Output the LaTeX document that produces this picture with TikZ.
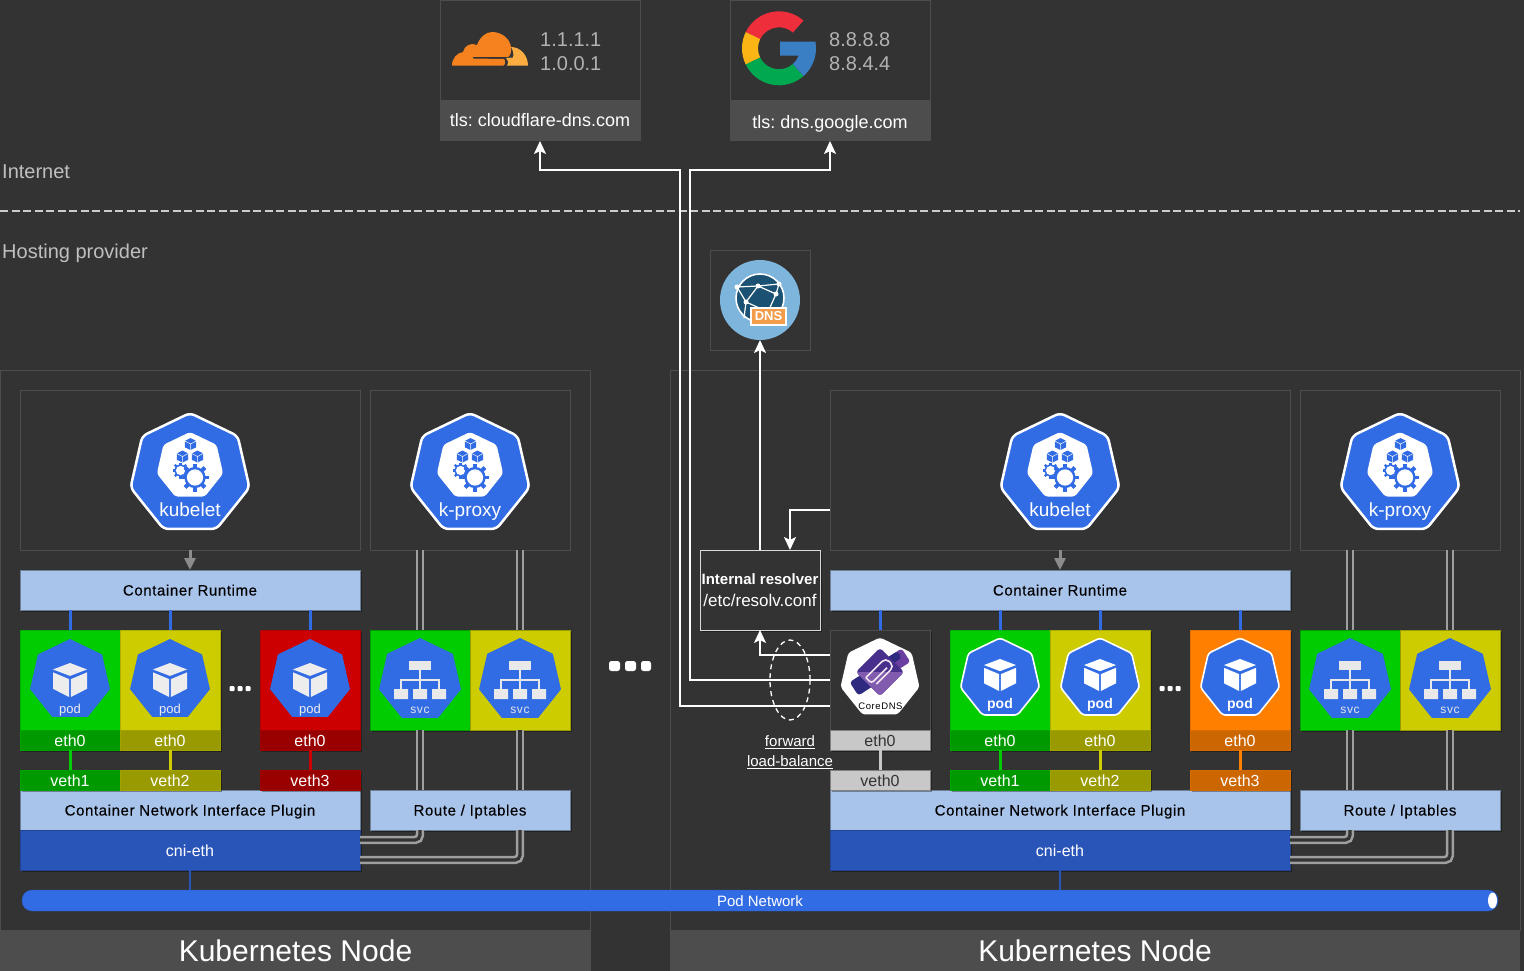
\documentclass[tikz,border=0pt]{standalone}
\usepackage{fontspec}
\setmainfont{Liberation Sans}
\newfontfamily\barfont[LetterSpace=4,FakeBold=.3]{Liberation Sans}
\newfontfamily\svcfont[LetterSpace=6]{Liberation Sans}
\usetikzlibrary{arrows.meta,shapes.geometric,shadows}
\newcommand{\fsz}[1]{\fontsize{#1}{20}\selectfont}
\definecolor{bgdark}{HTML}{333333}
\definecolor{frame}{HTML}{4D4D4D}
\definecolor{kube}{HTML}{326CE5}
\definecolor{lightbar}{HTML}{A9C4EB}
\definecolor{lightedge}{HTML}{6C7F99}
\definecolor{cniblue}{HTML}{2A55B8}
\definecolor{podgreen}{HTML}{00CC00}
\definecolor{darkgreen}{HTML}{009900}
\definecolor{podyellow}{HTML}{CCCC00}
\definecolor{darkyellow}{HTML}{999900}
\definecolor{podred}{HTML}{CC0000}
\definecolor{darkred}{HTML}{990000}
\definecolor{podorange}{HTML}{FF8000}
\definecolor{darkorange}{HTML}{CC6600}
\definecolor{softgray}{HTML}{C8C8C8}
\definecolor{cfmain}{HTML}{F6821F}
\definecolor{cfside}{HTML}{FBAD41}
\definecolor{gred}{HTML}{EE2E3B}
\definecolor{gyellow}{HTML}{FBB615}
\definecolor{ggreen}{HTML}{00A84F}
\definecolor{gblue}{HTML}{3A7FC4}
\definecolor{dnssky}{HTML}{7DB5DC}
\definecolor{dnsglobe}{HTML}{1B5173}
\definecolor{dnstag}{HTML}{F39C4A}
\definecolor{clipdark}{HTML}{2E2A80}
\definecolor{clipmid}{HTML}{46308C}
\definecolor{cliplight}{HTML}{6B3FA0}
\tikzstyle{shade}=[drop shadow={shadow xshift=2pt,shadow yshift=-2pt,fill=black,opacity=.35}]
\tikzstyle{area}=[draw=frame,inner sep=0pt,outer sep=0pt]
\tikzstyle{titlebar}=[fill=frame,inner sep=0pt,outer sep=0pt,text=white]
\tikzstyle{bluebar}=[shade,draw=lightedge,fill=lightbar,inner sep=0pt,outer sep=0pt,minimum height=40pt,text=black,text height=11pt,text depth=0pt,font=\fsz{15}\barfont]
\tikzstyle{cnibar}=[shade,draw=cniblue!80!black,fill=cniblue,inner sep=0pt,outer sep=0pt,minimum height=40pt,text=white,text height=13.5pt,text depth=0pt,font=\fsz{16}]
\tikzstyle{podbox}=[shade,inner sep=0pt,outer sep=0pt,minimum width=100pt,minimum height=100pt]
\tikzstyle{ethbox}=[shade,inner sep=0pt,outer sep=0pt,minimum width=100pt,minimum height=20pt,text=white,text height=12pt,text depth=0pt,font=\fsz{16}]
\tikzstyle{hepta}=[regular polygon,regular polygon sides=7,inner sep=0pt,outer sep=0pt,fill=kube]
\tikzstyle{wire}=[white,line width=2pt]
\tikzstyle{kubewire}=[draw=gray!75!white,line width=2.6pt,double=bgdark,double distance=3.2pt]
\tikzstyle{podlink}=[kube,line width=3pt]
\tikzstyle{cnilink}=[cniblue,line width=2pt]
\tikzstyle{dots}=[fill=white,rounded corners=1pt]

% small cube, #3 is half its width
\newcommand{\boxcube}[4]{
  \begin{scope}[shift={(#1,#2)},x=#3pt,y=#3pt]
    \fill[#4] (0,1) -- (1,.62) -- (0,.24) -- (-1,.62) -- cycle;
    \fill[#4] (-1,.45) -- (-.05,.05) -- (-.05,-1) -- (-1,-.52) -- cycle;
    \fill[#4] (1,.45) -- (.05,.05) -- (.05,-1) -- (1,-.52) -- cycle;
  \end{scope}
}
\newcommand{\minicube}[2]{
  \begin{scope}[shift={(#1,#2)},x=6pt,y=6pt]
    \fill[kube] (0,1) -- (.95,.5) -- (.95,-.55) -- (0,-1) -- (-.95,-.55) -- (-.95,.5) -- cycle;
    \draw[white,line width=.5pt] (-.95,.5) -- (0,0) -- (.95,.5) (0,0) -- (0,-1);
  \end{scope}
}
\newcommand{\gearwheel}[3]{
  \begin{scope}[shift={(#1,#2)}]
    \foreach \a in {0,45,...,315}
      \draw[kube,line width=#3*.28pt] (\a:{#3*.7}) -- (\a:{#3});
    \fill[kube] (0,0) circle ({#3*.76pt});
    \fill[white] (0,0) circle ({#3*.58pt});
  \end{scope}
}
% hexagon-like badge of the node agents
\newcommand{\agentbadge}[4]{
  \draw (#1,#2) node[hepta,draw=white,line width=2.5pt,rounded corners=5pt,minimum size=122pt] (#3) {};
  \draw (#1,#2-8) node[hepta,fill=white,rounded corners=3pt,minimum size=68pt] (#3in) {};
  \begin{scope}[shift={(#1,#2)}]
    \minicube{.5}{-30}
    \minicube{-7.5}{-17.5}
    \minicube{7.5}{-17.5}
    \gearwheel{-9.5}{-3.5}{8}
    \gearwheel{5}{3.5}{14}
    \draw (0,35.5) node[text=white,text height=14pt,text depth=0pt,inner sep=0pt,font=\fsz{19}] (#3txt) {#4};
  \end{scope}
}
\newcommand{\svcicon}[3]{
  \draw (#1,#2) node[hepta,minimum size=84pt] (#3) {};
  \begin{scope}[shift={(#1,#2)},softgray!40!white]
    \fill (-11,-19.5) rectangle (11,-10);
    \draw[line width=1.3pt] (0,-10) -- (0,9) (-19,9) -- (-19,0) -- (19,0) -- (19,9);
    \fill (-26,9) rectangle (-12,19) (-7,9) rectangle (7,19) (12,9) rectangle (26,19);
    \draw (0,30) node[text=white!90!black,font=\fsz{12}\svcfont] (#3txt) {svc};
  \end{scope}
}

\begin{document}
\frenchspacing
\begin{tikzpicture}[x=1pt,y=-1pt,>={Stealth[length=13pt,width=12pt,inset=3pt]}]
    \useasboundingbox (0,0) rectangle (1524,971);
    \fill[bgdark] (0,0) rectangle (1524,971);

    % Zones
    \draw[white!80!black,line width=2pt,dash pattern=on 8pt off 3.5pt] (0,211) -- (1520,211);
    \draw (2,172) node[anchor=west,inner sep=0pt,text=white!75!black,font=\fsz{20}] (inet) {Internet};
    \draw (2,253) node[anchor=west,inner sep=0pt,text=white!75!black,font=\fsz{20}] (hosting) {Hosting provider};

    % Kubernetes nodes
    \draw (295,650) node[area,minimum width=590pt,minimum height=560pt] (nodeL) {};
    \draw (1095,650) node[area,minimum width=850pt,minimum height=560pt] (nodeR) {};
    \draw (295.5,950.5) node[titlebar,minimum width=591pt,minimum height=41pt,font=\fsz{30}] (titleL) {Kubernetes Node};
    \draw (1095,950.5) node[titlebar,minimum width=850pt,minimum height=41pt,font=\fsz{30}] (titleR) {\raisebox{.5pt}{Kubernetes Node}};

    % Public resolvers
    \draw (540,50) node[area,minimum width=200pt,minimum height=100pt] (cfbox) {};
    \draw (540,120.5) node[titlebar,minimum width=201pt,minimum height=41pt,text height=12pt,text depth=0pt,font=\fsz{18}] (cfbar) {tls: cloudflare-dns.com};
    \draw (830,50) node[area,minimum width=200pt,minimum height=100pt] (gbox) {};
    \draw (830,120.5) node[titlebar,minimum width=201pt,minimum height=41pt,text height=16pt,text depth=0pt,font=\fsz{18}] (gbar) {tls: dns.google.com};
    \draw (540,40) node[anchor=west,inner sep=0pt,text=white!70!black,font=\fsz{20}] (cfa) {1.1.1.1};
    \draw (540,64) node[anchor=west,inner sep=0pt,text=white!70!black,font=\fsz{20}] (cfb) {1.0.0.1};
    \draw (829,40) node[anchor=west,inner sep=0pt,text=white!70!black,font=\fsz{20}] (ga) {8.8.8.8};
    \draw (829,64) node[anchor=west,inner sep=0pt,text=white!70!black,font=\fsz{20}] (gb) {8.8.4.4};

    % Cloud logo
    \fill[cfmain] (452,65.7) .. controls (452,58) and (457,53) .. (463,52) .. controls (464,46) and (471,42) .. (477,45) .. controls (480,37) and (486,32) .. (492,32) .. controls (502,32) and (510,39) .. (511,47) .. controls (512,52) and (510,56) .. (508,57) -- (473,57) -- (473,58.5) -- (504,59) .. controls (506,61) and (505,65.7) .. (503,65.7) -- cycle;
    \fill[cfside] (511,47) .. controls (521,47) and (528,56) .. (528,65.7) -- (507,65.7) .. controls (509,62) and (508,60) .. (506,58) -- (513,57.5) .. controls (514,54) and (513,50) .. (511,47) -- cycle;

    % Google logo
    \begin{scope}[shift={(779,48.3)},x=1pt,y=1pt]
      \fill[gred] (48.6:37) arc[start angle=48.6,end angle=154,radius=37pt] -- (154:21) arc[start angle=154,end angle=48.6,radius=21pt] -- cycle;
      \fill[gyellow] (154:37) arc[start angle=154,end angle=206,radius=37pt] -- (206:21) arc[start angle=206,end angle=154,radius=21pt] -- cycle;
      \fill[ggreen] (206:37) arc[start angle=206,end angle=311.4,radius=37pt] -- (311.4:21) arc[start angle=311.4,end angle=206,radius=21pt] -- cycle;
      \fill[gblue] (1,6.6) -- (36.5,6.6) -- (37,0) arc[start angle=0,end angle=-48.6,radius=37pt] -- (-48.6:21) arc[start angle=-48.6,end angle=-20.6,radius=21pt] -- (1,-7.4) -- cycle;
    \end{scope}

    % Hosting provider DNS
    \draw (760,300) node[area,minimum width=100pt,minimum height=100pt] (dnsbox) {};
    \draw (760,300) node[circle,fill=dnssky,minimum size=80pt,inner sep=0pt,outer sep=0pt] (dnsdisc) {};
    \draw[white,fill=dnsglobe,line width=1.6pt] (760,298) circle (24pt);
    \draw[white,line width=1.2pt] (737,287) -- (758,286) -- (779,284) (758,286) -- (746,302) -- (744,318) (758,286) -- (776,294) -- (768,312) (746,302) -- (768,312) (737,287) -- (746,302) (779,284) -- (776,294);
    \foreach \p in {(758,286),(746,302),(776,294),(737,287),(779,284)}
      \fill[white] \p circle (2.5pt);
    \draw (768.5,316.5) node[draw=white,line width=1.2pt,fill=dnstag,minimum width=35pt,minimum height=17pt,inner sep=0pt,text=white,font=\fsz{13}\bfseries] (dnsbadge) {DNS};

    % Internal resolver
    \draw (760,590) node[shade,draw=white!85!black,fill=bgdark,minimum width=120pt,minimum height=80pt,inner sep=0pt,outer sep=0pt,align=center,text=white,font=\fsz{15}] (resolver) {{\bfseries Internal resolver}\\[1.5pt]{\fsz{17}/etc/resolv.conf}};

    % Left node, top
    \draw (190,470) node[area,minimum width=340pt,minimum height=160pt] (kubeboxL) {};
    \draw (470,470) node[area,minimum width=200pt,minimum height=160pt] (proxyboxL) {};
    \agentbadge{190}{474}{kubeletL}{kubelet}
    \agentbadge{470}{474}{proxyL}{k-proxy}
    \draw (190,590) node[bluebar,minimum width=340pt] (runtimeL) {Container Runtime};
    \draw[gray!90!white,line width=3pt,-{Triangle[length=12pt,width=11pt]}] (kubeboxL.south) -- (runtimeL.north);

    % Left node, bottom
    \draw (190,810) node[bluebar,minimum width=340pt] (pluginL) {Container Network Interface Plugin};
    \draw (190,850) node[cnibar,minimum width=340pt] (cniL) {cni-eth};
    \draw (470,810) node[bluebar,minimum width=200pt] (routeL) {Route / Iptables};

    % Left node, pods
    \foreach \id/\x/\cf/\cd/\vn in {a/70/podgreen/darkgreen/veth1,b/170/podyellow/darkyellow/veth2,c/310/podred/darkred/veth3} {
      \draw (\x,680) node[podbox,fill=\cf,draw=\cd!60!\cf] (podL\id) {};
      \draw (\x,740) node[ethbox,fill=\cd,draw=\cd!80!\cf] (ethL\id) {eth0};
      \draw (\x,780) node[ethbox,fill=\cd,draw=\cd!80!\cf] (vethL\id) {\vn};
      \draw[podlink] (runtimeL.south -| podL\id.north) -- (podL\id.north);
      \draw[\cf,line width=3pt] (ethL\id) -- (vethL\id);
      \draw (\x,680) node[hepta,minimum size=82pt] (iconL\id) {};
      \boxcube{\x}{680}{17}{white!93!black}
      \draw (\x,710) node[text=white!93!black,font=\fsz{13}] (iconL\id txt) {pod};
    }
    \fill[dots] (229.5,686) rectangle ++(5,5) (237.5,686) rectangle ++(5,5) (245.5,686) rectangle ++(5,5);

    % Left node, services
    \draw (420,680) node[podbox,fill=podgreen,draw=darkgreen] (svcLa) {};
    \draw (520,680) node[podbox,fill=podyellow,draw=darkyellow] (svcLb) {};
    \svcicon{420}{680}{svciconLa}
    \svcicon{520}{680}{svciconLb}
    \draw[kubewire] (proxyboxL.south -| svcLa.north) -- (svcLa.north);
    \draw[kubewire] (proxyboxL.south -| svcLb.north) -- (svcLb.north);
    \draw[kubewire] (svcLa.south) -- (routeL.north -| svcLa.south);
    \draw[kubewire] (svcLb.south) -- (routeL.north -| svcLb.south);
    \draw[kubewire,rounded corners=5pt] (routeL.south -| svcLa.south) |- (cniL.east |- 0,840);
    \draw[kubewire,rounded corners=5pt] (routeL.south -| svcLb.south) |- (cniL.east |- 0,860);

    % Right node, top
    \draw (1060,470) node[area,minimum width=460pt,minimum height=160pt] (kubeboxR) {};
    \draw (1400,470) node[area,minimum width=200pt,minimum height=160pt] (proxyboxR) {};
    \agentbadge{1060}{474}{kubeletR}{kubelet}
    \agentbadge{1400}{474}{proxyR}{k-proxy}
    \draw (1060,590) node[bluebar,minimum width=460pt] (runtimeR) {Container Runtime};
    \draw[gray!90!white,line width=3pt,-{Triangle[length=12pt,width=11pt]}] (kubeboxR.south) -- (runtimeR.north);

    % Right node, bottom
    \draw (1060,810) node[bluebar,minimum width=460pt] (pluginR) {Container Network Interface Plugin};
    \draw (1060,850) node[cnibar,minimum width=460pt] (cniR) {cni-eth};
    \draw (1400,810) node[bluebar,minimum width=200pt] (routeR) {Route / Iptables};

    % CoreDNS pod
    \draw (880,680) node[podbox,fill=bgdark,draw=frame] (podcore) {};
    \draw (880,740) node[ethbox,fill=softgray,draw=gray,text=bgdark] (ethcore) {eth0};
    \draw (880,780) node[ethbox,fill=softgray,draw=gray,text=bgdark] (vethcore) {veth0};
    \draw[podlink] (runtimeR.south -| podcore.north) -- (podcore.north);
    \draw[softgray,line width=3pt] (ethcore) -- (vethcore);
    \draw (880,678) node[hepta,fill=white,rounded corners=3pt,minimum size=81pt] (iconcore) {};
    \begin{scope}[shift={(880,672)},rotate=33]
      \fill[clipdark,rounded corners=3pt] (-31,-8) rectangle (0,8);
      \fill[cliplight,rounded corners=3pt] (0,-8) rectangle (31,8);
      \fill[clipdark,rounded corners=3pt] (0,-8) rectangle (26,0);
    \end{scope}
    \begin{scope}[shift={(880,672)},rotate=45]
      \fill[clipmid,rounded corners=3pt] (-17,-17) rectangle (17,17);
      \fill[cliplight!85!white,rounded corners=3pt] (-17,-17) -- (-17,17) -- (17,17) -- cycle;
      \draw[white!90!violet,line width=1.6pt,rounded corners=5pt] (-14,-6) -- (14,-6) -- (14,6) -- (-11,6);
      \draw[white!90!violet,line width=1.6pt,rounded corners=3pt] (-14,-6) -- (-14,2) -- (-9,2) -- (8,2);
    \end{scope}
    \draw (880.5,706.5) node[text=black,font=\fsz{9.5}\svcfont] (iconcoretxt) {CoreDNS};

    % Right node, pods
    \foreach \id/\x/\cf/\cd/\vn in {a/1000/podgreen/darkgreen/veth1,b/1100/podyellow/darkyellow/veth2,c/1240/podorange/darkorange/veth3} {
      \draw (\x,680) node[podbox,fill=\cf,draw=\cd!60!\cf] (podR\id) {};
      \draw (\x,740) node[ethbox,fill=\cd,draw=\cd!80!\cf] (ethR\id) {eth0};
      \draw (\x,780) node[ethbox,fill=\cd,draw=\cd!80!\cf] (vethR\id) {\vn};
      \draw[podlink] (runtimeR.south -| podR\id.north) -- (podR\id.north);
      \draw[\cf,line width=3pt] (ethR\id) -- (vethR\id);
      \draw (\x,678.5) node[hepta,draw=white,line width=1.6pt,rounded corners=3pt,minimum size=81pt] (iconR\id) {};
      \boxcube{\x}{675}{16}{white}
      \draw (\x,704.5) node[text=white,font=\fsz{14}\bfseries] (iconR\id txt) {pod};
    }
    \fill[dots] (1159.5,686) rectangle ++(5,5) (1167.5,686) rectangle ++(5,5) (1175.5,686) rectangle ++(5,5);

    % Right node, services
    \draw (1350,680) node[podbox,fill=podgreen,draw=darkgreen] (svcRa) {};
    \draw (1450,680) node[podbox,fill=podyellow,draw=darkyellow] (svcRb) {};
    \svcicon{1350}{680}{svciconRa}
    \svcicon{1450}{680}{svciconRb}
    \draw[kubewire] (proxyboxR.south -| svcRa.north) -- (svcRa.north);
    \draw[kubewire] (proxyboxR.south -| svcRb.north) -- (svcRb.north);
    \draw[kubewire] (svcRa.south) -- (routeR.north -| svcRa.south);
    \draw[kubewire] (svcRb.south) -- (routeR.north -| svcRb.south);
    \draw[kubewire,rounded corners=5pt] (routeR.south -| svcRa.south) |- (cniR.east |- 0,840);
    \draw[kubewire,rounded corners=5pt] (routeR.south -| svcRb.south) |- (cniR.east |- 0,860);

    % Pod network
    \draw (760,900.5) node[draw=cniblue,fill=kube,rounded corners=10pt,minimum width=1476pt,minimum height=21pt,inner sep=0pt,outer sep=0pt,text=white,text height=11pt,text depth=0pt,font=\fsz{15}] (podnet) {Pod Network};
    \fill[white] (1492.5,900.5) ellipse (4.5pt and 8pt);
    \draw[cnilink] (cniL.south) -- (podnet.north -| cniL.south);
    \draw[cnilink] (cniR.south) -- (podnet.north -| cniR.south);

    % Between the nodes
    \fill[fill=white,rounded corners=2.5pt] (609,661) rectangle ++(11,10) (625,661) rectangle ++(11,10) (641,661) rectangle ++(10,10);

    % DNS traffic
    \draw[wire,->] (resolver.north) -- (dnsdisc.south);
    \draw[wire,->] (kubeboxR.west |- 0,510) -| (resolver.north -| 790,0);
    \draw[wire,->] (podcore.west |- 0,655) -| (resolver.south);
    \draw[wire,->] (podcore.west |- 0,706) -- (680,706) -- (680,170) -| (cfbar.south);
    \draw[wire,->] (podcore.west |- 0,680) -- (690,680) -- (690,170) -| (gbar.south);
    \draw[white,line width=1.3pt,dash pattern=on 5pt off 4pt] (790,680) ellipse (20pt and 40pt);
    \draw (790,742) node[inner sep=0pt,text=white,font=\fsz{15}] (fwdtxt) {\underline{forward}};
    \draw (790,762) node[inner sep=0pt,text=white,font=\fsz{15}] (lbtxt) {\underline{load-balance}};

\end{tikzpicture}
\end{document}
